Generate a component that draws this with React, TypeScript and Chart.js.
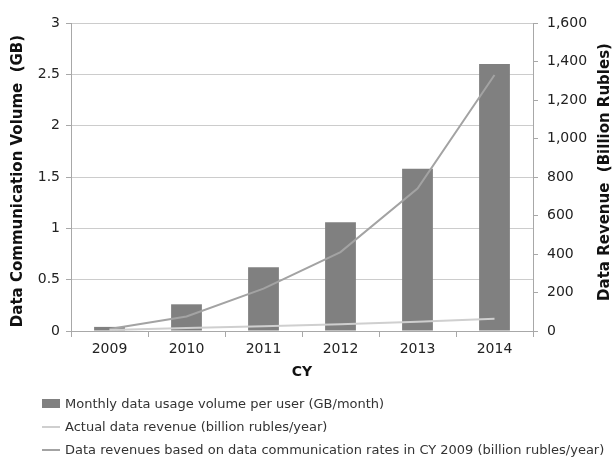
import React, { useEffect, useRef } from "react";
import { Chart, registerables } from "chart.js";

Chart.register(...registerables);

const categories = ["2009", "2010", "2011", "2012", "2013", "2014"];
const usageGB = [0.04, 0.26, 0.62, 1.06, 1.58, 2.6];
const actualRevenue = [5, 15, 25, 35, 48, 63];
const revenueAt2009Rates = [10, 75, 220, 410, 740, 1330];

const leftTitle = "Data Communication Volume  (GB)";
const rightTitle = "Data Revenue  (Billion Rubles)";

const legendItems = [
  { label: "Monthly data usage volume per user (GB/month)", kind: "box", color: "#808080" },
  { label: "Actual data revenue (billion rubles/year)", kind: "line", color: "#cfcfcf" },
  { label: "Data revenues based on data communication rates in CY 2009 (billion rubles/year)", kind: "line", color: "#a3a3a3" },
];

const FONT = "'DejaVu Sans', Verdana, sans-serif";

const axisTitlesPlugin = {
  id: "axisTitles",
  afterDraw(chart: any) {
    const { ctx, chartArea } = chart;
    const mid = (chartArea.top + chartArea.bottom) / 2;
    ctx.save();
    ctx.font = `bold 15px ${FONT}`;
    ctx.fillStyle = "#111";
    ctx.textAlign = "center";
    ctx.textBaseline = "middle";
    ctx.save();
    ctx.translate(18, mid + 4);
    ctx.rotate(-Math.PI / 2);
    ctx.fillText(leftTitle, 0, 0);
    ctx.restore();
    ctx.save();
    ctx.translate(605, mid - 5);
    ctx.rotate(-Math.PI / 2);
    ctx.fillText(rightTitle, 0, 0);
    ctx.restore();
    ctx.restore();
  },
};

export default function App() {
  const ref = useRef<HTMLCanvasElement>(null);
  useEffect(() => {
    if (!ref.current) return;
    const chart = new Chart(ref.current, {
      type: "bar",
      data: {
        labels: categories,
        datasets: [
          {
            type: "line",
            label: "Actual data revenue (billion rubles/year)",
            data: actualRevenue,
            yAxisID: "y1",
            borderColor: "#cfcfcf",
            borderWidth: 2,
            pointRadius: 0,
            fill: false,
            order: 0,
          },
          {
            type: "line",
            label: "Data revenues based on data communication rates in CY 2009 (billion rubles/year)",
            data: revenueAt2009Rates,
            yAxisID: "y1",
            borderColor: "#a3a3a3",
            borderWidth: 2,
            pointRadius: 0,
            fill: false,
            order: 0,
          },
          {
            type: "bar",
            label: "Monthly data usage volume per user (GB/month)",
            data: usageGB,
            yAxisID: "y",
            backgroundColor: "#808080",
            categoryPercentage: 1,
            barPercentage: 0.4,
            order: 1,
          },
        ],
      },
      options: {
        animation: false,
        responsive: true,
        maintainAspectRatio: false,
        layout: { padding: { top: 23, left: 30, right: 0, bottom: 0 } },
        plugins: { legend: { display: false }, tooltip: { enabled: false } },
        scales: {
          x: {
            offset: true,
            grid: { display: true, drawOnChartArea: false, offset: true, tickLength: 6, tickColor: "#a8a8a8" },
            border: { color: "#a8a8a8" },
            ticks: { color: "#222", font: { family: FONT, size: 14 }, padding: 4 },
            title: { display: true, text: "CY", color: "#111", font: { family: FONT, size: 14, weight: "bold" }, padding: { top: 0 } },
            afterFit: (s: any) => { s.height = 54; },
          },
          y: {
            position: "left",
            min: 0,
            max: 3,
            ticks: {
              stepSize: 0.5,
              color: "#222",
              font: { family: FONT, size: 14 },
              padding: 6,
              callback: (v: any) => String(v),
            },
            grid: { color: "#cccccc", tickColor: "#a8a8a8", tickLength: 5 },
            border: { color: "#a8a8a8" },
            afterFit: (s: any) => { s.width = 41; },
          },
          y1: {
            position: "right",
            min: 0,
            max: 1600,
            ticks: {
              stepSize: 200,
              color: "#222",
              font: { family: FONT, size: 14 },
              padding: 9,
              callback: (v: any) => Number(v).toLocaleString("en-US"),
            },
            grid: { drawOnChartArea: false, tickColor: "#a8a8a8", tickLength: 5 },
            border: { color: "#a8a8a8" },
            afterFit: (s: any) => { s.width = 81; },
          },
        },
      } as any,
      plugins: [axisTitlesPlugin],
    });
    return () => chart.destroy();
  }, []);

  return (
    <div style={{ position: "fixed", left: 0, top: 0, width: 614, height: 457, background: "#fff" }}>
      <div style={{ position: "absolute", left: 0, top: 0, width: 614, height: 385 }}>
        <canvas ref={ref} />
      </div>
      <div style={{ position: "absolute", left: 42, top: 392, fontFamily: FONT, fontSize: 13, color: "#333" }}>
        {legendItems.map((it) => (
          <div key={it.label} style={{ display: "flex", alignItems: "center", height: 23, whiteSpace: "nowrap" }}>
            <span
              style={{
                display: "inline-block",
                width: 18,
                height: it.kind === "box" ? 9 : 2,
                background: it.color,
                marginRight: 5,
              }}
            />
            <span>{it.label}</span>
          </div>
        ))}
      </div>
    </div>
  );
}
